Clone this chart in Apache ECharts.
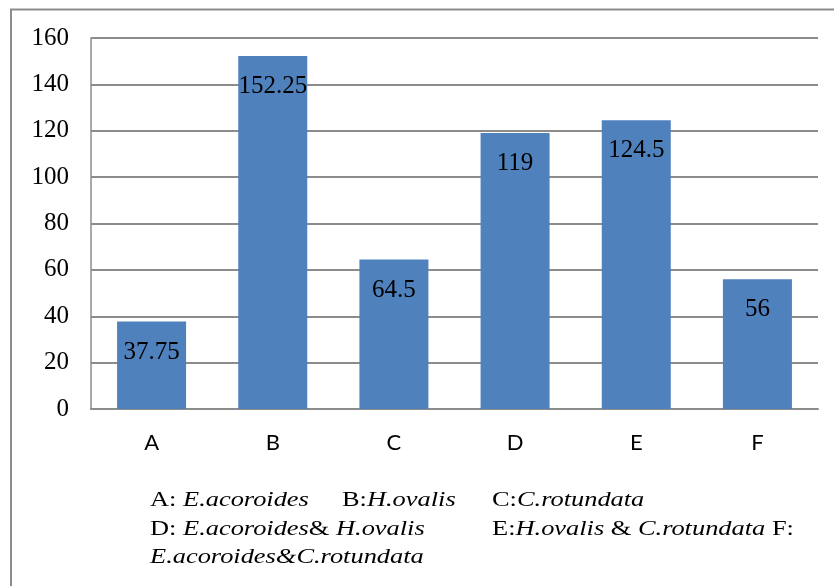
<!DOCTYPE html>
<html>
<head>
<meta charset="utf-8">
<script src="https://cdn.jsdelivr.net/npm/echarts@6/dist/echarts.min.js"></script>
<style>
html,body{margin:0;padding:0;background:#fff;}
#chart{width:834px;height:586px;}
</style>
</head>
<body>
<div id="chart"></div>
<script>
const categories = ['A', 'B', 'C', 'D', 'E', 'F'];
const values = [37.75, 152.25, 64.5, 119, 124.5, 56];
const yMin = 0, yMax = 160, yStep = 20;

// caption segments: [plain, italic, plain, italic ...]
const captionLine1a = ['A: ', 'E.acoroides'];
const captionLine1b = ['B:', 'H.ovalis'];
const captionLine1c = ['C:', 'C.rotundata'];
const captionLine2a = ['D: ', 'E.acoroides', '& ', 'H.ovalis'];
const captionLine2b = ['E:', 'H.ovalis', ' & ', 'C.rotundata', ' F:'];
const captionLine3a = ['', 'E.acoroides&C.rotundata'];

const serif = '"Liberation Serif", "Times New Roman", serif';
const gray = '#8c8c8c';

function richText(parts) {
  return parts.map((p, i) => p === '' ? '' : (i % 2 === 0 ? '{n|' + p + '}' : '{i|' + p + '}')).join('');
}
const rich = {
  n: { fontFamily: serif, fontSize: 22, fill: '#000', color: '#000' },
  i: { fontFamily: serif, fontSize: 22, fontStyle: 'italic', fill: '#000', color: '#000' }
};
function cap(parts, x, y) {
  return {
    type: 'text', x: x, y: y, scaleX: 1.2,
    style: { text: richText(parts), rich: rich, fontFamily: serif, fontSize: 22, verticalAlign: 'middle', align: 'left', fill: '#000' }
  };
}

const chart = echarts.init(document.getElementById('chart'));
chart.setOption({
  animation: false,
  backgroundColor: '#fff',
  grid: { left: 91, top: 38, right: 16, bottom: 177, containLabel: false },
  xAxis: {
    type: 'category',
    data: categories,
    axisLine: { show: true, lineStyle: { color: gray, width: 2 } },
    axisTick: { show: false },
    axisLabel: { color: '#000', fontFamily: 'Lato, "Open Sans", sans-serif', fontSize: 22, margin: 23 }
  },
  yAxis: {
    type: 'value',
    min: yMin, max: yMax, interval: yStep,
    axisLine: { show: true, lineStyle: { color: gray, width: 1.5 } },
    axisTick: { show: false },
    axisLabel: { color: '#000', fontFamily: serif, fontSize: 25, margin: 22 },
    splitLine: { show: true, lineStyle: { color: gray, width: 2 } }
  },
  series: [{
    type: 'bar',
    data: values,
    barWidth: 69,
    itemStyle: { color: '#4F81BD' },
    label: {
      show: true,
      position: 'insideTop',
      distance: 18,
      color: '#000',
      fontFamily: serif,
      fontSize: 25,
      formatter: p => String(p.value)
    }
  }],
  graphic: [
    {
      type: 'polyline',
      shape: { points: [[11, 586], [11, 9.5], [834, 9.5]] },
      style: { stroke: gray, lineWidth: 2, fill: null }
    },
    cap(captionLine1a, 150, 500),
    cap(captionLine1b, 342, 500),
    cap(captionLine1c, 492, 500),
    cap(captionLine2a, 150, 529),
    cap(captionLine2b, 492, 529),
    cap(captionLine3a, 150, 557)
  ]
});
</script>
</body>
</html>
